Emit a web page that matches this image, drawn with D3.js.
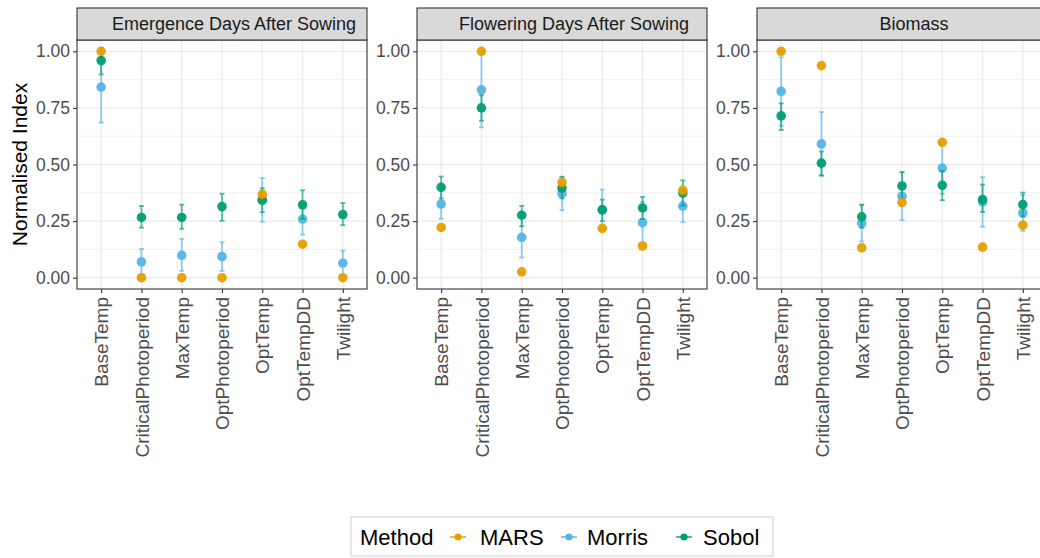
<!DOCTYPE html>
<html>
<head>
<meta charset="utf-8">
<script src="https://cdn.jsdelivr.net/npm/d3@7"></script>
<style>
  html, body { margin: 0; padding: 0; background: #fff; }
  svg { display: block; font-family: "Liberation Sans", Arial, sans-serif; }
</style>
</head>
<body>
<svg id="chart" width="1040" height="558"></svg>
<script>
// Sensitivity-analysis parameters (x categories) and facet titles
const categories = ["BaseTemp", "CriticalPhotoperiod", "MaxTemp", "OptPhotoperiod", "OptTemp", "OptTempDD", "Twilight"];
const panels = ["Emergence Days After Sowing", "Flowering Days After Sowing", "Biomass"];
const methods = ["MARS", "Morris", "Sobol"];
const methodColors = ["#E69F00", "#56B4E9", "#009E73"];
const yTicks = [0, 0.25, 0.5, 0.75, 1];

// Emergence Days After Sowing
const emergenceMars      = [1.00, 0.00, 0.00, 0.00, 0.368, 0.148, 0.00];
const emergenceMorris    = [0.842, 0.070, 0.099, 0.093, 0.345, 0.259, 0.064];
const emergenceMorrisLo  = [0.685, 0.013, 0.030, 0.030, 0.247, 0.190, 0.008];
const emergenceMorrisHi  = [1.000, 0.127, 0.171, 0.157, 0.440, 0.330, 0.120];
const emergenceSobol     = [0.959, 0.266, 0.266, 0.314, 0.342, 0.322, 0.279];
const emergenceSobolLo   = [0.898, 0.221, 0.216, 0.251, 0.289, 0.260, 0.232];
const emergenceSobolHi   = [1.015, 0.317, 0.323, 0.371, 0.395, 0.386, 0.330];

// Flowering Days After Sowing
const floweringMars      = [0.222, 1.00, 0.026, 0.421, 0.218, 0.140, 0.386];
const floweringMorris    = [0.325, 0.830, 0.178, 0.371, 0.300, 0.243, 0.316];
const floweringMorrisLo  = [0.260, 0.664, 0.089, 0.298, 0.210, 0.150, 0.246];
const floweringMorrisHi  = [0.390, 0.990, 0.267, 0.444, 0.389, 0.335, 0.386];
const floweringSobol     = [0.399, 0.750, 0.276, 0.396, 0.300, 0.308, 0.374];
const floweringSobolLo   = [0.350, 0.693, 0.227, 0.350, 0.250, 0.260, 0.318];
const floweringSobolHi   = [0.447, 0.806, 0.317, 0.446, 0.345, 0.357, 0.430];

// Biomass
const biomassMars        = [1.00, 0.937, 0.132, 0.332, 0.598, 0.135, 0.232];
const biomassMorris      = [0.823, 0.591, 0.240, 0.360, 0.484, 0.335, 0.286];
const biomassMorrisLo    = [0.670, 0.450, 0.160, 0.254, 0.370, 0.225, 0.207];
const biomassMorrisHi    = [0.974, 0.732, 0.320, 0.466, 0.598, 0.444, 0.365];
const biomassSobol       = [0.715, 0.506, 0.269, 0.405, 0.408, 0.345, 0.323];
const biomassSobolLo     = [0.652, 0.452, 0.220, 0.350, 0.342, 0.290, 0.270];
const biomassSobolHi     = [0.770, 0.557, 0.323, 0.466, 0.470, 0.411, 0.376];

// Assemble per-panel series: [method, values, lower, upper]
const panelSeries = [
  [["MARS", emergenceMars, null, null], ["Morris", emergenceMorris, emergenceMorrisLo, emergenceMorrisHi], ["Sobol", emergenceSobol, emergenceSobolLo, emergenceSobolHi]],
  [["MARS", floweringMars, null, null], ["Morris", floweringMorris, floweringMorrisLo, floweringMorrisHi], ["Sobol", floweringSobol, floweringSobolLo, floweringSobolHi]],
  [["MARS", biomassMars, null, null], ["Morris", biomassMorris, biomassMorrisLo, biomassMorrisHi], ["Sobol", biomassSobol, biomassSobolLo, biomassSobolHi]]
];
// Drawing order: Morris underneath, then Sobol, MARS on top
const drawOrder = ["Morris", "Sobol", "MARS"];

const color = d3.scaleOrdinal().domain(methods).range(methodColors);

const svg = d3.select("#chart");
const panelLeft = [77, 417, 757];
const panelW = 290;
const stripTop = 8, plotTop = 40, plotBottom = 289;

const x = d3.scalePoint().domain(categories).range([0, panelW]).padding(0.6);
const y = d3.scaleLinear().domain([-0.05, 1.05]).range([plotBottom, plotTop]);
const minorTicks = [0.125, 0.375, 0.625, 0.875];

panels.forEach((title, pi) => {
  const g = svg.append("g").attr("transform", `translate(${panelLeft[pi]},0)`);

  // panel background + grid
  g.append("rect").attr("x", 0).attr("y", plotTop).attr("width", panelW).attr("height", plotBottom - plotTop).attr("fill", "#fff");
  g.selectAll(".gminor").data(minorTicks).join("line")
    .attr("x1", 0).attr("x2", panelW).attr("y1", d => y(d)).attr("y2", d => y(d))
    .attr("stroke", "#EBEBEB").attr("stroke-width", 0.7);
  g.selectAll(".gmajor").data(yTicks).join("line")
    .attr("x1", 0).attr("x2", panelW).attr("y1", d => y(d)).attr("y2", d => y(d))
    .attr("stroke", "#EBEBEB").attr("stroke-width", 1.3);
  g.selectAll(".gx").data(categories).join("line")
    .attr("x1", d => x(d)).attr("x2", d => x(d)).attr("y1", plotTop).attr("y2", plotBottom)
    .attr("stroke", "#EBEBEB").attr("stroke-width", 1.3);

  // series
  const series = panelSeries[pi];
  drawOrder.forEach(m => {
    const s = series.find(d => d[0] === m);
    const [name, vals, lo, hi] = s;
    const c = color(name);
    const pts = categories.map((cat, i) => ({ cat, v: vals[i], lo: lo ? lo[i] : null, hi: hi ? hi[i] : null }));
    if (lo) {
      const eb = g.append("g").attr("stroke", c).attr("stroke-opacity", 0.65).attr("stroke-width", 1.8);
      eb.selectAll(".v").data(pts).join("line")
        .attr("x1", d => x(d.cat)).attr("x2", d => x(d.cat))
        .attr("y1", d => y(d.lo)).attr("y2", d => y(d.hi));
      eb.selectAll(".cl").data(pts).join("line")
        .attr("x1", d => x(d.cat) - 2.5).attr("x2", d => x(d.cat) + 2.5)
        .attr("y1", d => y(d.lo)).attr("y2", d => y(d.lo));
      eb.selectAll(".ch").data(pts).join("line")
        .attr("x1", d => x(d.cat) - 2.5).attr("x2", d => x(d.cat) + 2.5)
        .attr("y1", d => y(d.hi)).attr("y2", d => y(d.hi));
    }
    g.append("g").selectAll("circle").data(pts).join("circle")
      .attr("cx", d => x(d.cat)).attr("cy", d => y(d.v)).attr("r", 4.8)
      .attr("fill", c).attr("fill-opacity", 0.95);
  });

  // panel border
  g.append("rect").attr("x", 0).attr("y", plotTop).attr("width", panelW).attr("height", plotBottom - plotTop)
    .attr("fill", "none").attr("stroke", "#333333").attr("stroke-width", 1.1);

  // strip
  g.append("rect").attr("x", 0).attr("y", stripTop).attr("width", panelW).attr("height", plotTop - stripTop)
    .attr("fill", "#D9D9D9").attr("stroke", "#333333").attr("stroke-width", 1.1);
  g.append("text").attr("x", panelW / 2 + 12).attr("y", (stripTop + plotTop) / 2).attr("dy", "0.36em")
    .attr("text-anchor", "middle").attr("font-size", 18).attr("fill", "#1A1A1A").text(title);

  // y axis
  const ya = g.append("g").call(d3.axisLeft(y).tickValues(yTicks).tickFormat(d3.format(".2f")).tickSize(4).tickPadding(3));
  ya.select(".domain").remove();
  ya.selectAll(".tick line").attr("stroke", "#333333").attr("stroke-width", 1.1);
  ya.selectAll(".tick text").attr("font-size", 17.5).attr("fill", "#4D4D4D").attr("font-family", "Liberation Sans, Arial, sans-serif");

  // x axis
  const xa = g.append("g").attr("transform", `translate(0,${plotBottom})`)
    .call(d3.axisBottom(x).tickSize(4).tickPadding(3));
  xa.select(".domain").remove();
  xa.selectAll(".tick line").attr("stroke", "#333333").attr("stroke-width", 1.1);
  xa.selectAll(".tick text")
    .attr("font-size", 19).attr("fill", "#4D4D4D").attr("font-family", "Liberation Sans, Arial, sans-serif")
    .attr("transform", "rotate(-90)")
    .attr("text-anchor", "end")
    .attr("x", -8).attr("y", 0).attr("dy", "0.35em");
});

// y axis title
svg.append("text").attr("transform", `translate(27,${(plotTop + plotBottom) / 2}) rotate(-90)`)
  .attr("text-anchor", "middle").attr("font-size", 21).attr("fill", "#000").text("Normalised Index");

// legend
const lg = svg.append("g");
lg.append("rect").attr("x", 351).attr("y", 517).attr("width", 422).attr("height", 39)
  .attr("fill", "#fff").attr("stroke", "#CCCCCC").attr("stroke-width", 1);
lg.append("text").attr("x", 360).attr("y", 537).attr("dy", "0.36em").attr("font-size", 22).attr("fill", "#000").text("Method");
const keyX = [458, 569, 684];
const labelX = [480, 587, 703];
methods.forEach((m, i) => {
  lg.append("line").attr("x1", keyX[i] - 8).attr("x2", keyX[i] + 8).attr("y1", 537).attr("y2", 537)
    .attr("stroke", color(m)).attr("stroke-width", 1.8).attr("stroke-opacity", 0.8);
  lg.append("circle").attr("cx", keyX[i]).attr("cy", 537).attr("r", 3.6).attr("fill", color(m));
  lg.append("text").attr("x", labelX[i]).attr("y", 537).attr("dy", "0.36em").attr("font-size", 22).attr("fill", "#000").text(m);
});
</script>
</body>
</html>
